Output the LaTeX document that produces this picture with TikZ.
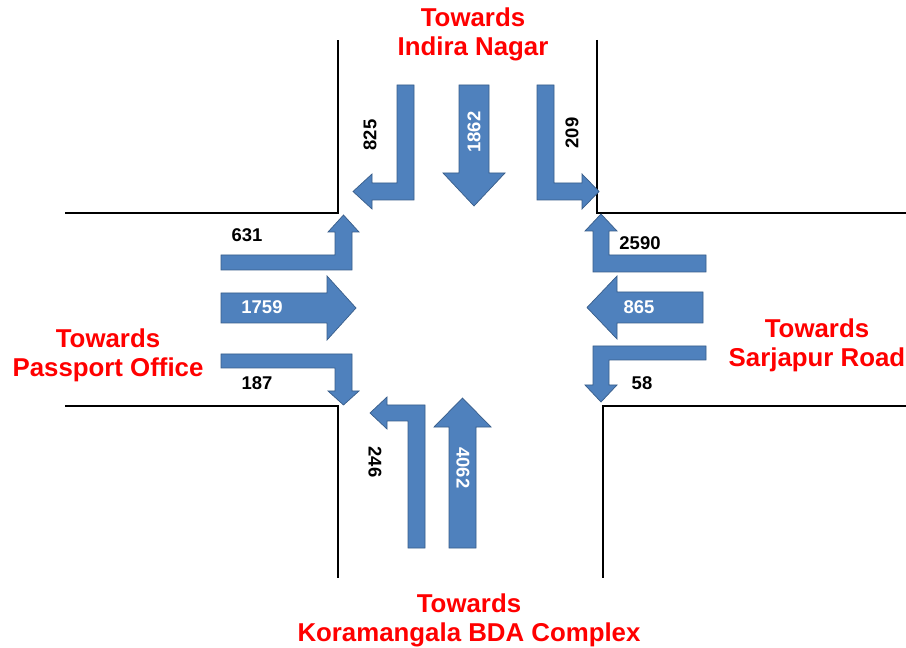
\documentclass[tikz,border=0pt]{standalone}
\usepackage{fontspec}
\setmainfont{Liberation Sans}
\usepackage{tikz}
\definecolor{lanefill}{RGB}{79,129,189}
\definecolor{laneedge}{RGB}{56,93,138}
\definecolor{townred}{RGB}{255,0,0}
\tikzset{
  road/.style={draw=black,line width=1.2pt},
  lane/.style={fill=lanefill,draw=laneedge,line width=0.4pt},
  place/.style={text=townred,font=\fontsize{14.7}{16.6}\selectfont\bfseries,align=center,inner sep=0pt},
  count/.style={font=\fontsize{10.5}{12}\selectfont\bfseries,inner sep=0pt},
  flow/.style={count,text=white}
}
\begin{document}
\begin{tikzpicture}[x=0.02cm,y=-0.02cm]
    \useasboundingbox[fill=white] (0,0) rectangle (906,648);
    \draw[road] (65,213) -- (338,213) -- (338,40);
    \draw[road] (597,40) -- (597,213) -- (906,213);
    \draw[road] (65,406) -- (338,406) -- (338,578);
    \draw[road] (906,406) -- (603,406) -- (603,578);
    \path[lane] (397,85) -- (414,85) -- (414,200) -- (372,200) -- (372,209) -- (353,191.5)
      -- (372,174) -- (372,183) -- (397,183) -- cycle;
    \path[lane] (459,85) -- (489,85) -- (489,173) -- (505,173) -- (474,206) -- (443,173)
      -- (459,173) -- cycle;
    \path[lane] (537,85) -- (554,85) -- (554,183) -- (582,183) -- (582,174) -- (599,191.5)
      -- (582,209) -- (582,200) -- (537,200) -- cycle;
    \path[lane] (221,255) -- (335,255) -- (335,232) -- (328,232) -- (343.5,215) -- (359,232)
      -- (352,232) -- (352,270) -- (221,270) -- cycle;
    \path[lane] (221,293) -- (327,293) -- (327,276) -- (356,308) -- (327,340) -- (327,323)
      -- (221,323) -- cycle;
    \path[lane] (221,354) -- (352,354) -- (352,391) -- (359,391) -- (343.5,405) -- (328,391)
      -- (335,391) -- (335,368) -- (221,368) -- cycle;
    \path[lane] (706,255) -- (609,255) -- (609,231) -- (617,231) -- (601,214) -- (585,231)
      -- (593,231) -- (593,272) -- (706,272) -- cycle;
    \path[lane] (703,292) -- (617,292) -- (617,276) -- (587,307.5) -- (617,339) -- (617,323)
      -- (703,323) -- cycle;
    \path[lane] (706,346) -- (593,346) -- (593,385) -- (585,385) -- (601,402) -- (617,385)
      -- (609,385) -- (609,360) -- (706,360) -- cycle;
    \path[lane] (425,548) -- (408,548) -- (408,421) -- (387,421) -- (387,429) -- (370,413)
      -- (387,397) -- (387,405) -- (425,405) -- cycle;
    \path[lane] (449,548) -- (476,548) -- (476,427) -- (491,427) -- (462.5,398) -- (434,427)
      -- (449,427) -- cycle;
    \node[place] (north) at (473,34) {Towards\\Indira Nagar};
    \node[place] (west) at (108,355) {Towards\\Passport Office};
    \node[place] (east) at (817,345) {Towards\\Sarjapur Road};
    \node[place] (south) at (469,620) {Towards\\Koramangala BDA Complex};
    \node[count,rotate=90] (n825) at (370,135) {825};
    \node[flow,rotate=90] (n1862) at (474,132) {1862};
    \node[count,rotate=90] (n209) at (572,133) {209};
    \node[count] (n631) at (247,235) {631};
    \node[flow] (n1759) at (262,307) {1759};
    \node[count] (n187) at (257,383) {187};
    \node[count] (n2590) at (640,243) {2590};
    \node[flow] (n865) at (639,307) {865};
    \node[count] (n58) at (642,383) {58};
    \node[count,rotate=-90] (n246) at (375,462) {246};
    \node[flow,rotate=-90] (n4062) at (463,468) {4062};
  \end{tikzpicture}
\end{document}
